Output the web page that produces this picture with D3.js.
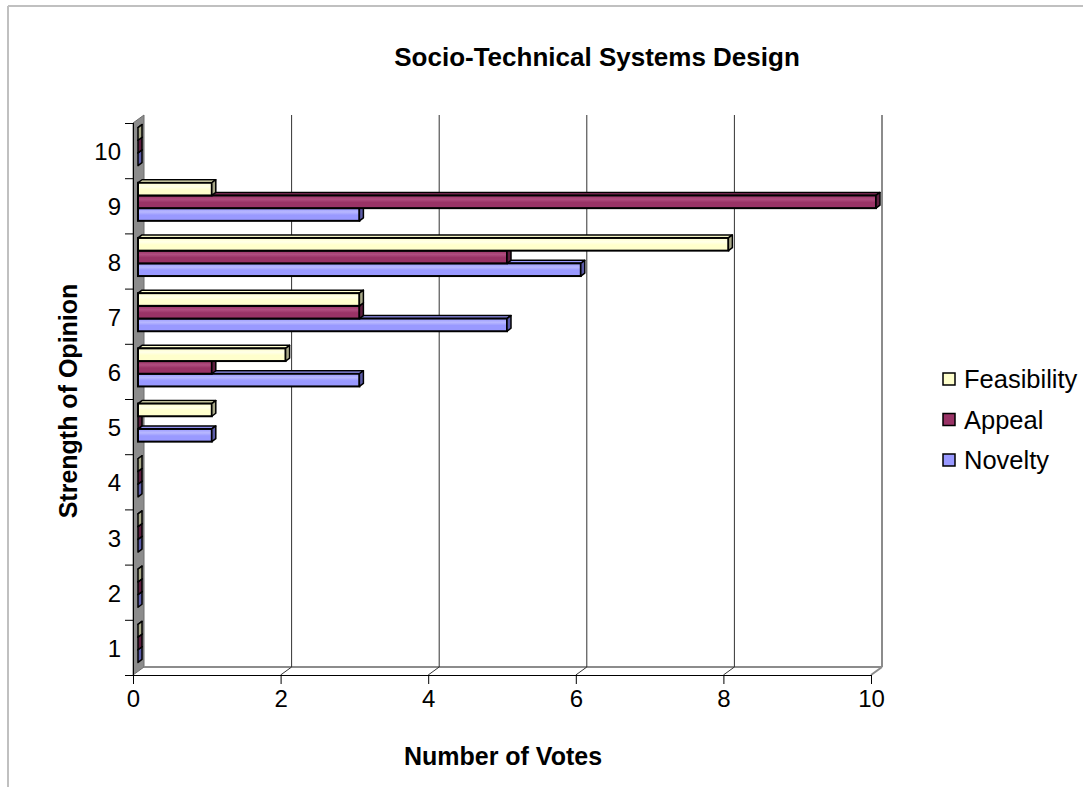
<!DOCTYPE html>
<html><head><meta charset="utf-8">
<script src="https://cdn.jsdelivr.net/npm/d3@7"></script>
<style>body{margin:0;background:#fff}svg{display:block;font-family:"Liberation Sans",Arial,sans-serif}</style>
</head><body><svg id="c" width="1083" height="787"></svg>
<script>
const categories = ["1","2","3","4","5","6","7","8","9","10"];
const seriesNames = ["Feasibility","Appeal","Novelty"];
const feasibility = [0,0,0,0,1,2,3,8,1,0];
const appeal      = [0,0,0,0,0,1,3,5,10,0];
const novelty     = [0,0,0,0,1,3,5,6,3,0];
const xTicks = [0,2,4,6,8,10];

(function(){
const colors = {Feasibility:"#FFFFCC", Appeal:"#993366", Novelty:"#9999FF"};
const hi = {Feasibility:"#FFFFE8", Appeal:"#B04D7F", Novelty:"#B8B8FF"};
const side = {Feasibility:"#A8A888", Appeal:"#5E1F40", Novelty:"#5C5CA8"};
const valuesBy = {Feasibility:feasibility, Appeal:appeal, Novelty:novelty};

const svg = d3.select("#c");
svg.append("line").attr("x1",8).attr("x2",1083).attr("y1",6).attr("y2",6).attr("stroke","#c0c0c0").attr("stroke-width",2);
svg.append("line").attr("x1",8).attr("x2",8).attr("y1",6).attr("y2",787).attr("stroke","#c0c0c0").attr("stroke-width",2);

const x = d3.scaleLinear().domain([0,10]).range([133,871]);
const y = d3.scaleBand().domain(categories.slice().reverse()).range([123,675]).paddingInner(0.31).paddingOuter(0.155);
const yLin = d3.scaleLinear().domain([0,10]).range([675,123]);
const ys = d3.scaleBand().domain(seriesNames).range([0,y.bandwidth()]);
const DX = 11, DY = -8;
const bdx = 5, bdy = -4;
const cdx = 4, cdy = -3;

const defs = svg.append("defs");
seriesNames.forEach(s=>{
  const g = defs.append("linearGradient").attr("id","g"+s).attr("x1",0).attr("x2",0).attr("y1",0).attr("y2",1);
  g.append("stop").attr("offset","0%").attr("stop-color",colors[s]);
  g.append("stop").attr("offset","30%").attr("stop-color",hi[s]);
  g.append("stop").attr("offset","55%").attr("stop-color",colors[s]);
  g.append("stop").attr("offset","100%").attr("stop-color",colors[s]);
});

const wx0 = x(0), yTop = yLin(10), yBot = yLin(0);
svg.append("path").attr("d",`M${wx0},${yTop}L${wx0+DX},${yTop+DY}L${wx0+DX},${yBot+DY}L${wx0},${yBot}Z`).attr("fill","#8c8c8c").attr("stroke","#6e6e6e").attr("stroke-width",1);
svg.append("line").attr("x1",wx0+DX).attr("x2",x(10)+DX).attr("y1",yBot+DY).attr("y2",yBot+DY).attr("stroke","#8c8c8c").attr("stroke-width",2);
svg.append("line").attr("x1",x(10)).attr("x2",x(10)+DX).attr("y1",yBot).attr("y2",yBot+DY).attr("stroke","#8c8c8c").attr("stroke-width",2);
svg.append("line").attr("x1",x(10)+DX).attr("x2",x(10)+DX).attr("y1",yTop+DY).attr("y2",yBot+DY).attr("stroke","#8c8c8c").attr("stroke-width",2);
const gv = xTicks.filter(v=>v>0 && v<10);
svg.selectAll(".grid").data(gv).join("line").attr("x1",d=>x(d)+DX).attr("x2",d=>x(d)+DX).attr("y1",yTop+DY).attr("y2",yBot+DY).attr("stroke","#333").attr("stroke-width",1);
svg.selectAll(".gdiag").data(gv).join("line").attr("x1",d=>x(d)).attr("x2",d=>x(d)+DX).attr("y1",yBot).attr("y2",yBot+DY).attr("stroke","#333").attr("stroke-width",1);

const drawOrder = ["Novelty","Appeal","Feasibility"];
drawOrder.forEach(s=>{
  const vals = valuesBy[s];
  const g = svg.append("g");
  categories.forEach((c,i)=>{
    const v = vals[i];
    const x0 = x(0)+bdx, x1 = x(v)+bdx;
    const yy = y(c)+ys(s)+bdy, h = ys.bandwidth();
    g.append("path").attr("d",`M${x0},${yy}L${x0+cdx},${yy+cdy}L${x1+cdx},${yy+cdy}L${x1},${yy}Z`).attr("fill",colors[s]).attr("stroke","#000").attr("stroke-width",1.5).attr("stroke-linejoin","round");
    if (v>0) g.append("rect").attr("x",x0).attr("y",yy).attr("width",x1-x0).attr("height",h).attr("fill",`url(#g${s})`).attr("stroke","#000").attr("stroke-width",2);
    g.append("path").attr("d",`M${x1},${yy}L${x1+cdx},${yy+cdy}L${x1+cdx},${yy+h+cdy}L${x1},${yy+h}Z`).attr("fill",side[s]).attr("stroke","#000").attr("stroke-width",1.5).attr("stroke-linejoin","round");
  });
});

const xAxis = d3.axisBottom(x).tickValues(xTicks).tickSize(9).tickPadding(6).tickFormat(d3.format("d"));
const gx = svg.append("g").attr("transform",`translate(0,${yBot})`).call(xAxis);
gx.select(".domain").attr("d",`M125,0.5H${x(10)}`).attr("stroke","#000");
gx.selectAll("text").attr("font-size",24).attr("fill","#000").attr("font-family","Liberation Sans, Arial, sans-serif");
gx.selectAll(".tick line").attr("stroke","#000");

const yAxisTicks = d3.axisLeft(yLin).tickValues(d3.range(0,11)).tickSize(8).tickFormat("");
const gy = svg.append("g").attr("transform",`translate(${x(0)},0)`).call(yAxisTicks);
gy.select(".domain").attr("d",`M0.5,${yTop}V${yBot+9}`).attr("stroke","#000");
gy.selectAll(".tick line").attr("stroke","#000");

const yLabels = d3.axisLeft(y).tickSize(0).tickPadding(12);
const gyl = svg.append("g").attr("transform",`translate(${x(0)},2)`).call(yLabels);
gyl.select(".domain").remove();
gyl.selectAll("text").attr("font-size",24).attr("fill","#000").attr("font-family","Liberation Sans, Arial, sans-serif");

svg.append("text").attr("x",597).attr("y",66).attr("text-anchor","middle").attr("font-weight","bold").attr("font-size",26).text("Socio-Technical Systems Design");
svg.append("text").attr("x",503).attr("y",765).attr("text-anchor","middle").attr("font-weight","bold").attr("font-size",25).text("Number of Votes");
svg.append("text").attr("transform","translate(77,401) rotate(-90)").attr("text-anchor","middle").attr("font-weight","bold").attr("font-size",25).text("Strength of Opinion");

const lg = svg.append("g");
seriesNames.forEach((s,i)=>{
  const cy = 380 + i*40.5;
  lg.append("rect").attr("x",943).attr("y",cy-7).attr("width",12).attr("height",12).attr("fill",colors[s]).attr("stroke","#000").attr("stroke-width",1.5);
  lg.append("text").attr("x",964).attr("y",cy+8).attr("font-size",25.5).text(s);
});
})();
</script></body></html>
